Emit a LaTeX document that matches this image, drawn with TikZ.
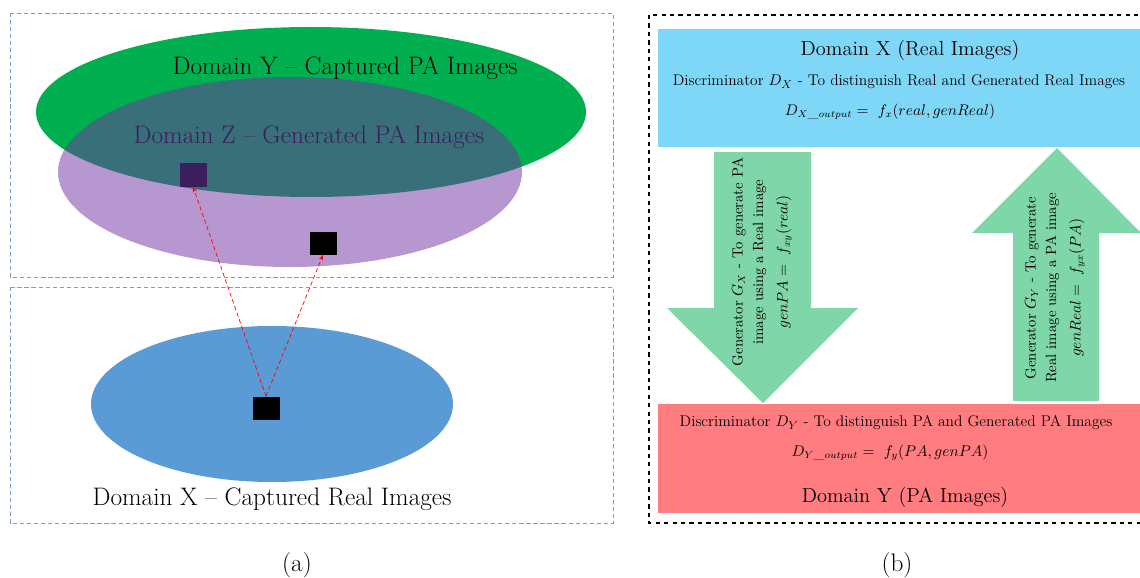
\documentclass[tikz,border=0pt]{standalone}
\usetikzlibrary{arrows.meta}

\definecolor{greenY}{HTML}{00B050}
\definecolor{purpleZ}{HTML}{7030A0}
\definecolor{textZ}{HTML}{3B1E5E}
\definecolor{blueX}{HTML}{5B9BD5}
\definecolor{boxX}{HTML}{7FD7F7}
\definecolor{boxY}{HTML}{FF7C80}
\definecolor{genarrow}{HTML}{7FD6A8}
\definecolor{frameblue}{HTML}{7F9CC4}

\tikzset{
  frame/.style={draw=frameblue, densely dashed, line width=0.6pt},
  bigtext/.style={font=\fontsize{18}{21}\selectfont},
  headtext/.style={font=\fontsize{14.5}{17}\selectfont},
  midtext/.style={font=\fontsize{11}{14}\selectfont, align=center},
  gentext/.style={font=\fontsize{10.5}{14.5}\selectfont, align=center, rotate=90},
  sample/.style={fill=black, draw=none, minimum width=27*0.025cm, minimum height=23*0.025cm},
  mapto/.style={red, densely dashed, line width=0.5pt, -{Stealth[length=4pt,width=3pt]}}
}

\begin{document}
\begin{tikzpicture}[x=0.025cm,y=-0.025cm]

\useasboundingbox (0,0) rectangle (1140,578);

% (a) domains as sets
\draw[frame] (10,13) rectangle (613,277);
\draw[frame] (10,287) rectangle (613,523);

\fill[greenY] (311,112) ellipse [x radius=275, y radius=85];
\fill[purpleZ, fill opacity=0.5] (290,172) ellipse [x radius=232, y radius=95];
\fill[blueX] (272,404) ellipse [x radius=181, y radius=78];

\node[bigtext] (labY) at (345,68) {Domain Y -- Captured PA Images};
\node[bigtext, text=textZ] (labZ) at (309,137) {Domain Z -- Generated PA Images};
\node[bigtext] (labX) at (272,499) {Domain X -- Captured Real Images};

\node[sample, fill=textZ] (pz) at (193,175) {};
\node[sample] (py) at (323,243) {};
\node[sample] (px) at (266,408) {};

\draw[mapto] (px.north) -- (pz.south);
\draw[mapto] (px.north) -- (py.south);

\node[bigtext] (capa) at (297,565) {(a)};

% (b) generators and discriminators
\draw[dashed, line width=0.8pt] (649,15) rectangle (1145,523);

\fill[boxX] (658,29) rectangle (1145,147);
\node[headtext] (domX) at (910,50) {Domain X (Real Images)};
\node[midtext] (discX) at (899,82) {Discriminator $D_X$ - To distinguish Real and Generated Real Images};
\node[font=\fontsize{10.5}{13}\selectfont] (outX) at (890,112) {$D_{X\_output} = \ f_x(real, genReal)$};

\fill[genarrow] (714,152) -- (811,152) -- (811,308) -- (858,308) -- (763,403)
  -- (667,308) -- (714,308) -- cycle;
\node[gentext] (genX) at (762,262)
  {Generator $G_X$ - To generate PA\\ image using a Real image\\[3pt] $genPA = \ f_{xy}(real)$};

\fill[genarrow] (1013,401) -- (1099,401) -- (1099,233) -- (1141,233) -- (1057,148)
  -- (972,233) -- (1013,233) -- cycle;
\node[gentext] (genY) at (1055,288)
  {Generator $G_Y$ - To generate\\ Real image using a PA image\\[3pt] $genReal = \ f_{yx}(PA)$};

\fill[boxY] (658,404) rectangle (1145,513);
\node[midtext] (discY) at (896,423) {Discriminator $D_Y$ - To distinguish PA and Generated PA Images};
\node[font=\fontsize{10.5}{13}\selectfont] (outY) at (890,453) {$D_{Y\_output} = \ f_y(PA, genPA)$};
\node[headtext] (domY) at (905,497) {Domain Y (PA Images)};

\node[bigtext] (capb) at (897,565) {(b)};

\end{tikzpicture}
\end{document}
